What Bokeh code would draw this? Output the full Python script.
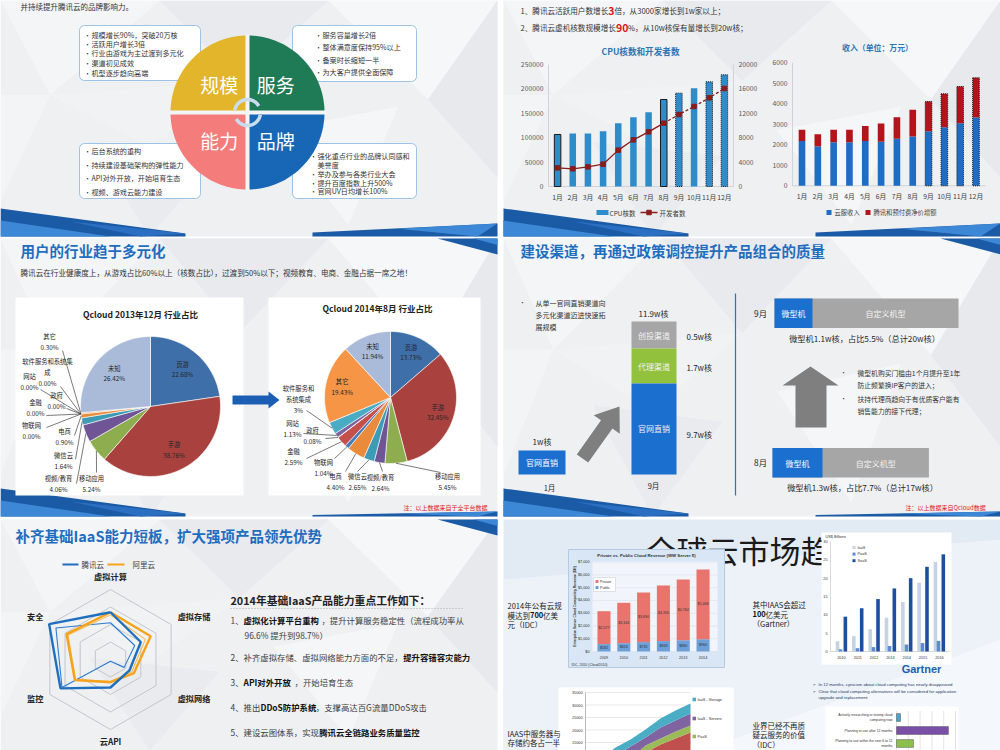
import numpy as np
from bokeh.plotting import figure
from bokeh.models import Range1d
from bokeh.embed import file_html
from bokeh.resources import INLINE
from bokeh.core.properties import value

FONT = "Noto Sans CJK SC"

# ======================= DATA =======================
intro_line = "并持续提升腾讯云的品牌影响力。"
quad_names = ["服务", "品牌", "能力", "规模"]          # clockwise from 12 o'clock
quad_colors = ["#1f7b56", "#1867b6", "#f47d7b", "#e2b52b"]
notes_scale = ["规模增长90%，突破20万核", "活跃用户增长3倍", "行业由游戏为主过渡到多元化", "渠道初见成效", "机型逐步趋向高端"]
notes_service = ["服务容量增长2倍", "整体满意度保持95%以上", "备案时长缩短一半", "为大客户提供全面保障"]
notes_ability = ["后台系统的重构", "持续建设基础架构的弹性能力", "API对外开放，开始培育生态", "视频、游戏云能力建设"]
notes_brand = ["强化重点行业的品牌认同感和\n美誉度", "举办及参与各类行业大会", "提升百度指数上升500%", "官网UV日均增长100%"]

months = ["1月", "2月", "3月", "4月", "5月", "6月", "7月", "8月", "9月", "10月", "11月", "12月"]
cpu_cores = [106600, 108600, 108600, 113400, 129800, 142000, 152300, 178300, 191300, 201500, 214500, 228800]
developers = [3060, 2900, 3220, 3660, 5960, 7650, 8960, 10380, 11800, 13120, 14540, 16070]
cpu_ticks = [0, 50000, 100000, 150000, 200000, 250000]
dev_ticks = [0, 4000, 8000, 12000, 16000, 20000]
rev_cloud = [2180, 1935, 2130, 2130, 2180, 2146, 2293, 2407, 2667, 2862, 3057, 3333]
rev_extra = [552, 585, 602, 602, 731, 895, 1057, 1300, 1447, 1626, 1789, 1935]
rev_ticks = [0, 1000, 2000, 3000, 4000, 5000, 6000]

pie_names = ["页游", "手游", "移动应用", "视频/教育", "微信云", "电商", "物联网", "金融", "政府", "网站", "软件服务和系统集成", "其它", "未知"]
pie_colors = ["#3f6fa9", "#a9423f", "#8dad4f", "#6f5596", "#3e9bb6", "#ea8a3b", "#4a7bbd", "#c4504c", "#98b956", "#7d63a0", "#4aabc5", "#f69545", "#a9bbd9"]
share_2013 = [22.68, 38.76, 5.24, 4.06, 1.64, 0.90, 0.00, 0.00, 0.00, 0.00, 0.00, 0.30, 26.42]
share_2014 = [13.73, 32.45, 5.45, 2.64, 2.65, 4.40, 1.04, 2.59, 0.08, 1.13, 3, 19.43, 11.94]

chan_names = ["创投渠道", "代理渠道", "官网直销"]
chan_cores = [0.5, 1.7, 9.7]
chan_colors = ["#a6a6a6", "#92c13e", "#1b6fcf"]
jan_cores = 1
mach_months = ["9月", "8月"]
mach_micro = [1.1, 1.3]
mach_share = [5.5, 7.7]
mach_total = [20, 17]
mach_notes = ["微型机购买门槛由1个月提升至1年\n防止频繁换IP客户的进入；", "扶持代理商趋向于有优质客户能有\n销售能力的接下代理；"]

radar_axes = ["虚拟计算", "虚拟存储", "虚拟网络", "云API", "监控", "安全"]
tencent = [2.7, 2.0, 1.25, 1.6, 3.3, 4.05]
tencent_prev = [2.1, 1.6, 0.9, 0.1, 3.2, 3.6]
aliyun = [2.7, 2.65, 1.55, 1.3, 2.35, 2.9]
aliyun_prev = [2.55, 2.3, 1.4, 1.25, 2.3, 2.8]

idc_years = ["2009", "2010", "2011", "2012", "2013", "2014"]
idc_public = [582, 653, 735, 818, 880, 960]
idc_private = [2577, 3164, 3890, 4356, 4764, 5468]
idc_ticks = [0, 1000, 2000, 3000, 4000, 5000, 6000, 7000]

gartner_years = ["2010", "2011", "2012", "2013", "2014", "2015", "2016"]
g_iaas = [2.8, 4.2, 6.1, 9.2, 13.5, 18.8, 24.4]
g_paas = [0.6, 0.9, 1.2, 1.5, 1.9, 2.3, 2.9]
g_saas = [9.5, 11.8, 14.3, 17.2, 20.0, 23.1, 26.5]
g_ticks = [0, 5, 10, 15, 20, 25, 30]

area_saas = [2500, 3500, 5000, 7000, 11000, 14000, 16500, 19000]
area_paas = [500, 800, 1100, 1600, 2500, 2500, 2800, 2800]
area_servers = [1000, 2000, 3500, 4500, 3500, 4300, 4500, 4800]
area_storage = [1000, 2200, 3200, 2900, 3000, 3500, 4000, 4000]
area_ticks = [15000, 20000, 25000, 30000, 35000]

survey_labels = [["Actively researching or testing cloud", "computing now"], ["Planning to use after 12 months"], ["Planning to use within the next 6 to 12", "months"]]
survey_values = [3.4, 44, 14.4]

# ======================= FIGURE =======================
W, H = 1000, 750
p = figure(width=W, height=H, x_range=Range1d(0, W), y_range=Range1d(H, 0),
           output_backend="svg", toolbar_location=None, x_axis_type=None, y_axis_type=None,
           min_border=0, outline_line_color=None,
           background_fill_color="white", border_fill_color="white")
p.grid.visible = False


def T(x, y, s, size=8.0, color="#333333", bold=False, align="left", baseline="middle", font=FONT, angle=0.0):
    p.text(x=[x], y=[y], text=[s], text_font=value(font), text_font_size=f"{size}px",
           text_color=color, text_font_style="bold" if bold else "normal",
           text_align=align, text_baseline=baseline, angle=angle)


def cw(ch, s):
    if ord(ch) >= 0x2E80:
        return s
    if ch == " ":
        return 0.26 * s
    if ch.isdigit():
        return 0.56 * s
    if ch in ".,:;'|":
        return 0.27 * s
    if ch == "%":
        return 0.84 * s
    if ch in "()":
        return 0.33 * s
    if ch.isupper():
        return 0.63 * s
    return 0.52 * s


def runs(x, y, parts, size, color="#333333", bold_color=None):
    for part in parts:
        s, c, b, sz = part
        T(x, y, s, sz, c, b)
        x += sum(cw(ch, sz) for ch in s) * (1.03 if b else 1.0)


def poly(pts, color, alpha=1.0):
    p.patch([a for a, b in pts], [b for a, b in pts], fill_color=color, fill_alpha=alpha, line_color=None)


def rrect(x0, y0, x1, y1, r, fill, line, lw=1.0):
    xs, ys = [], []
    for cx, cy, a0, a1 in [(x1 - r, y0 + r, -90, 0), (x1 - r, y1 - r, 0, 90), (x0 + r, y1 - r, 90, 180), (x0 + r, y0 + r, 180, 270)]:
        for a in np.radians(np.linspace(a0, a1, 7)):
            xs.append(cx + r * np.cos(a))
            ys.append(cy + r * np.sin(a))
    p.patch(xs, ys, fill_color=fill, line_color=line, line_width=lw)


# ---------------- slide backgrounds ----------------
slides = [(0, 0, 497, 236), (503, 0, 1000, 236), (0, 238, 497, 516), (503, 238, 1000, 516), (0, 519, 497, 750), (503, 519, 1000, 750)]
tri_rel = [
    [(0.00, 0.00), (0.32, 0.00), (0.10, 0.40)],
    [(0.32, 0.00), (0.66, 0.00), (0.48, 0.34)],
    [(0.66, 0.00), (1.00, 0.00), (0.86, 0.42)],
    [(0.86, 0.42), (1.00, 0.00), (1.00, 0.75)],
    [(0.00, 0.40), (0.10, 0.40), (0.00, 0.85)],
    [(0.55, 0.55), (0.80, 0.45), (0.70, 0.95)],
    [(0.18, 0.60), (0.44, 0.66), (0.30, 1.00)],
    [(0.10, 0.40), (0.48, 0.34), (0.30, 0.62)],
]
tri_cols = ["#f4f5f7", "#e8eaee", "#f6f7f8", "#e7e9ed", "#f3f4f6", "#f5f6f8", "#e9ebef", "#f1f2f4"]
for i, (x0, y0, x1, y1) in enumerate(slides):
    if i == 5:
        p.quad(left=x0, right=x1, top=y0, bottom=y1, fill_color="#e2ebf4", line_color=None)
        poly([(x0, y0 + 60), (x1, y0 + 20), (x1, y1), (x0, y1)], "#edf2f8")
        poly([(x0 + 200, y1), (x1, y0 + 120), (x1, y1)], "#f4f7fb")
        continue
    p.quad(left=x0, right=x1, top=y0, bottom=y1, fill_color="#eef0f2", line_color=None)
    xs = [[x0 + u * (x1 - x0) for u, v in t] for t in tri_rel]
    ys = [[y0 + v * (y1 - y0) for u, v in t] for t in tri_rel]
    p.patches(xs, ys, fill_color=tri_cols, line_color=None)


def deco_bottom(x0, x1, yb, rh=13):
    poly([(x0, yb - 28), (x0 + 185, yb - 3), (x0 + 185, yb), (x0, yb)], "#1b5aa5")
    poly([(x0, yb - 16), (x0 + 110, yb), (x0, yb)], "#3c88d6")
    poly([(x0 + 70, yb - 15), (x0 + 185, yb - 3), (x0 + 140, yb)], "#2a6fc1")
    poly([(x1 - 185, yb - rh * 0.3), (x1, yb - rh), (x1, yb), (x1 - 185, yb)], "#1b5aa5")
    poly([(x1 - 100, yb - rh * 0.6), (x1, yb - rh), (x1 - 20, yb)], "#3c88d6")


def deco_top(x1, yt, w=60, h=16):
    poly([(x1 - w, yt), (x1, yt), (x1, yt + h)], "#1b5aa5")
    poly([(x1 - w * 0.4, yt), (x1, yt), (x1, yt + h * 0.4)], "#3c88d6")


for k, (x0, y0, x1, y1) in enumerate(slides[:4]):
    deco_bottom(x0, x1, y1, 13 if k < 2 else 5)
for (x0, y0, x1, y1) in slides[2:5]:
    deco_top(x1, y0)

# =================== slide 1: quadrant ===================
T(20, 6, intro_line, 7.5, "#333333")
boxes = [(79, 25, 200, 80), (292, 25, 416, 81), (79, 143, 200, 198), (292, 143, 416, 198)]
for b in boxes:
    rrect(*b, r=5, fill="white", line="#9cc2e5")
note_layout = [(87, 91, [34.3, 43.3, 52.7, 62.3, 72]), (318, 322, [34.3, 46.7, 59.3, 71.7]),
               (87, 91, [150, 164, 177.7, 191]), (313, 317, [155.7, 173.3, 182, 190.3])]
for (bx, tx, ys), notes in zip(note_layout, [notes_scale, notes_service, notes_ability, notes_brand]):
    for yy, s in zip(ys, notes):
        T(bx, yy, "•", 6.5, "#333333", align="center")
        for k, ln in enumerate(s.split("\n")):
            T(tx, yy + 8.6 * k, ln, 7.1, "#333333")

qx, qy, qr = 247, 112, 77
for k in range(4):
    th = np.radians(np.linspace(90 * k, 90 * (k + 1), 40))
    p.patch([qx] + list(qx + qr * np.sin(th)), [qy] + list(qy - qr * np.cos(th)), fill_color=quad_colors[k], line_color=None)
    mid = np.radians(90 * k + 45)
    T(qx + 0.52 * qr * np.sin(mid), qy - 0.52 * qr * np.cos(mid), quad_names[k], 19, "white", align="center")
p.segment(x0=[qx - qr - 1, qx], y0=[qy, qy - qr - 1], x1=[qx + qr + 1, qx], y1=[qy, qy + qr + 1], line_color="#f4f5f7", line_width=4)
for a0, a1 in [(-80, 60), (100, 240)]:
    th = np.radians(np.linspace(a0, a1, 30))
    p.line(qx + 13 * np.sin(th), qy - 13 * np.cos(th), line_color="#c9ddef", line_width=3.5)

# =================== slide 2: CPU / revenue ===================
runs(520, 10, [("1、腾讯云活跃用户数增长", "#333333", False, 7.6), ("3", "#e0161b", True, 10.5),
               ("倍，从3000家增长到1w家以上；", "#333333", False, 7.6)], 7.6)
runs(520, 27, [("2、腾讯云虚机核数规模增长", "#333333", False, 7.6), ("90", "#e0161b", True, 10.5),
               ("%，从10w核保有量增长到20w核；", "#333333", False, 7.6)], 7.6)

T(640, 50.5, "CPU核数和开发者数", 8.6, "#2e75b6", True, "center")
xi = list(range(1, 13))
cpu = p.subplot(x_source=Range1d(0.4, 12.6), y_source=Range1d(0, 250000), x_target=Range1d(548, 733), y_target=Range1d(186, 64))
dev = p.subplot(x_source=Range1d(0.4, 12.6), y_source=Range1d(0, 20000), x_target=Range1d(548, 733), y_target=Range1d(186, 64))
cpu.segment(x0=[0.4, 12.6, 0.4], y0=[0, 0, 0], x1=[0.4, 12.6, 12.6], y1=[250000, 250000, 0], line_color="#d0d3d8", line_width=1)
cpu.vbar(x=xi, top=cpu_cores, width=0.43, fill_color="#2f8ccb", line_color=None)
sol = [0, 7]
dot = [8, 10, 11]
cpu.vbar(x=[xi[i] for i in sol], top=[cpu_cores[i] for i in sol], width=0.43, fill_color=None, line_color="#1a1a1a", line_width=1)
cpu.vbar(x=[xi[i] for i in dot], top=[cpu_cores[i] for i in dot], width=0.43, fill_color=None, line_color="#1a1a1a", line_width=1, line_dash="1 1")
dev.line(xi[:8], developers[:8], line_color="#8b1c1c", line_width=1.3)
dev.line(xi[7:], developers[7:], line_color="#8b1c1c", line_width=1.3, line_dash="3 2")
dev.scatter(xi, developers, marker="square", size=4.5, fill_color="#8b1c1c", line_color="#8b1c1c")
cpu.text(x=[0.4] * len(cpu_ticks), y=cpu_ticks, text=[str(t) for t in cpu_ticks], x_offset=-5,
         text_align="right", text_baseline="middle", text_font=value(FONT), text_font_size="6.8px", text_color="#595959")
dev.text(x=[12.6] * len(dev_ticks), y=dev_ticks, text=[str(t) for t in dev_ticks], x_offset=5,
         text_align="left", text_baseline="middle", text_font=value(FONT), text_font_size="6.8px", text_color="#595959")
cpu.text(x=xi, y=[0] * 12, text=months, y_offset=10, text_align="center", text_baseline="middle",
         text_font=value(FONT), text_font_size="6.8px", text_color="#404040")
p.quad(left=596, right=608, top=209.5, bottom=214.5, fill_color="#2f8ccb", line_color=None)
T(609, 212, "CPU核数", 6.5, "#404040")
p.segment(x0=[640], y0=[212], x1=[657], y1=[212], line_color="#8b1c1c", line_width=1.3)
p.scatter([648.5], [212], marker="square", size=4.5, fill_color="#8b1c1c", line_color="#8b1c1c")
T(659, 212, "开发者数", 6.5, "#404040")

T(877, 47, "收入（单位：万元）", 7.9, "#2e75b6", True, "center")
rev = p.subplot(x_source=Range1d(0.4, 12.6), y_source=Range1d(0, 6000), x_target=Range1d(792, 985), y_target=Range1d(185.3, 62.3))
rev_total = [a + b for a, b in zip(rev_cloud, rev_extra)]
rev.segment(x0=[0.4, 0.4], y0=[0, 0], x1=[0.4, 12.6], y1=[6000, 0], line_color="#d0d3d8", line_width=1)
rev.vbar(x=xi, bottom=0, top=rev_cloud, width=0.42, fill_color="#1f6cc4", line_color=None)
rev.vbar(x=xi, bottom=rev_cloud, top=rev_total, width=0.42, fill_color="#b3141c", line_color=None)
rev.vbar(x=xi[8:], bottom=0, top=rev_total[8:], width=0.42, fill_color=None, line_color="#1a1a1a", line_width=1, line_dash="1 1")
rev.text(x=[0.4] * len(rev_ticks), y=rev_ticks, text=[str(t) for t in rev_ticks], x_offset=-5,
         text_align="right", text_baseline="middle", text_font=value(FONT), text_font_size="6.8px", text_color="#595959")
rev.text(x=xi, y=[0] * 12, text=months, y_offset=10, text_align="center", text_baseline="middle",
         text_font=value(FONT), text_font_size="6.8px", text_color="#404040")
p.quad(left=826, right=831, top=209.5, bottom=214.5, fill_color="#1f6cc4", line_color=None)
T(834, 212, "云服收入", 6.3, "#404040")
p.quad(left=865, right=870, top=209.5, bottom=214.5, fill_color="#b3141c", line_color=None)
T(873, 212, "腾讯和预付费净价增额", 6.3, "#404040")

# =================== slide 3: pies ===================
T(20, 250, "用户的行业趋于多元化", 14.5, "#1f6dbf", True)
T(20, 272, "腾讯云在行业健康度上，从游戏占比60%以上（核数占比），过渡到50%以下；视频教育、电商、金融占据一席之地！", 7.6, "#333333")
p.quad(left=15, right=243, top=297, bottom=495, fill_color="white", line_color=None)
p.quad(left=268, right=480, top=297, bottom=495, fill_color="white", line_color=None)
T(140, 313, "Qcloud 2013年12月 行业占比", 8.5, "#222222", True, "center")
T(377, 307, "Qcloud 2014年8月 行业占比", 8.5, "#222222", True, "center")
poly([(232, 395), (268, 395), (268, 391), (279, 399.5), (268, 408), (268, 404), (232, 404)], "#1a5fb4")


def fmt_pct(v):
    return f"{v}%" if isinstance(v, int) else f"{v:.2f}%"


def draw_pie(cx, cy, r, vals, lab_r, ext, lead, wrap):
    v = np.asarray(vals, float)
    frac = v / v.sum()
    cum = np.concatenate([[0.0], np.cumsum(frac)])
    xs, ys, cs = [], [], []
    for i in range(len(v)):
        if v[i] <= 0:
            continue
        th = np.linspace(cum[i], cum[i + 1], max(3, int(frac[i] * 160) + 2)) * 2 * np.pi
        xs.append([cx] + list(cx + r * np.sin(th)))
        ys.append([cy] + list(cy - r * np.cos(th)))
        cs.append(pie_colors[i])
    p.patches(xs, ys, fill_color=cs, line_color="white", line_width=0.6)
    mids = (cum[:-1] + cum[1:]) * np.pi
    for i in range(len(v)):
        if i in ext:
            lx, ly = ext[i]
            lines = wrap.get(i, [pie_names[i]]) + [fmt_pct(vals[i])]
            for k, ln in enumerate(lines):
                T(lx, ly + 10.8 * k, ln, 6.3, "#262626", align="center")
            sx, sy = lead[i]
            p.line([sx, cx + r * np.sin(mids[i])], [sy, cy - r * np.cos(mids[i])], line_color="#404040", line_width=0.7)
        elif v[i] >= 10:
            tx = cx + lab_r * r * np.sin(mids[i])
            ty = cy - lab_r * r * np.cos(mids[i])
            T(tx, ty - 5, pie_names[i], 6.3, "#262626", align="center")
            T(tx, ty + 5.5, fmt_pct(vals[i]), 6.3, "#262626", align="center")


ext13 = {2: (91, 478), 3: (58, 478), 4: (63, 455), 5: (64, 431), 6: (31, 425), 7: (35, 402), 8: (56, 395), 9: (29, 376), 10: (47, 361), 11: (49, 336)}
lead13 = {2: (96, 472), 3: (76, 483), 4: (75, 459), 5: (74, 435), 6: (46, 427), 7: (46, 415), 8: (66, 408), 9: (40, 389), 10: (60, 386), 11: (62, 350)}
ext14 = {2: (447, 476), 3: (380, 477), 4: (357, 476), 5: (335, 476), 6: (323, 462), 7: (293, 451), 8: (312, 430), 9: (292, 423), 10: (298, 388)}
lead14 = {2: (440, 472), 3: (382, 471), 4: (357, 471), 5: (345, 471), 6: (334, 458), 7: (306, 458), 8: (325, 438), 9: (303, 433), 10: (306, 410)}
draw_pie(150, 406, 70, share_2013, 0.7, ext13, lead13, {10: ["软件服务和系统集", "成"]})
draw_pie(390, 397, 66, share_2014, 0.75, ext14, lead14, {10: ["软件服务和", "系统集成"]})
T(403, 506.5, "注：以上数据来自于全平台数据", 6, "#e02020")

# =================== slide 4: channels ===================
T(520, 250, "建设渠道，再通过政策调控提升产品组合的质量", 14.5, "#1f6dbf", True)
T(522, 302, "•", 6, "#333333", align="center")
for k, ln in enumerate(["从单一官网直销渠道向", "多元化渠道迈进快速拓", "展规模"]):
    T(535, 302 + 12 * k, ln, 7, "#333333")
chan_y = [(321, 348), (348, 383), (383, 474)]
chan_lab_y = [336, 367, 434]
for (y0, y1), nm, v, c, ly in zip(chan_y, chan_names, chan_cores, chan_colors, chan_lab_y):
    p.quad(left=631, right=676, top=y0, bottom=y1, fill_color=c, line_color=None)
    T(653.5, (y0 + y1) / 2 + (0 if nm != "官网直销" else -0.5), nm, 8, "#f2f2f2", align="center")
    T(686, ly, f"{v}w核", 8, "#262626")
T(653, 313, f"{sum(chan_cores):.1f}w核", 8, "#262626", align="center")
T(653, 485, "9月", 7.5, "#262626", align="center")
p.quad(left=518, right=565, top=450, bottom=474, fill_color="#1b6fcf", line_color=None)
T(541.5, 462, chan_names[2], 8, "white", align="center")
T(541.5, 441, f"{jan_cores}w核", 8, "#262626", align="center")
T(549, 487, "1月", 7.5, "#262626", align="center")
tail = np.array([582.0, 458.0])
tip = np.array([619.0, 406.0])
u = (tip - tail) / np.linalg.norm(tip - tail)
nrm = np.array([-u[1], u[0]])
neck = tip - u * 22
arrow = [tail + nrm * 7, neck + nrm * 7, neck + nrm * 16, tip, neck - nrm * 16, neck - nrm * 7, tail - nrm * 7]
poly([tuple(a) for a in arrow], "#7f7f7f")
p.segment(x0=[735], y0=[293], x1=[735], y1=[495], line_color="#2e75b6", line_width=1.2)

mach_y = [313, 462.5]
mach_x0 = [774, 772]
mach_blue_w = [38, 50]
px_per_w = 9.2
for mm, m, sh, t, yy, x0, bw in zip(mach_months, mach_micro, mach_share, mach_total, mach_y, mach_x0, mach_blue_w):
    p.quad(left=x0, right=x0 + t * px_per_w, top=yy - 15, bottom=yy + 14.5, fill_color="#a6a6a6", line_color=None)
    p.quad(left=x0, right=x0 + bw, top=yy - 15, bottom=yy + 14.5, fill_color="#1b6fcf", line_color=None)
    T(x0 + bw / 2, yy, "微型机", 8, "white", align="center")
    T((x0 + bw + x0 + t * px_per_w) / 2, yy, "自定义机型", 8, "#f2f2f2", align="center")
    T(760, yy - 1, mm, 8.3, "#262626", align="center")
    T(x0 + 90, yy + 24, f"微型机{m}w核，占比{sh}%（总计{t}w核）", 8.2, "#262626", align="center")
poly([(782, 385), (810, 366), (838, 385), (826, 385), (826, 427), (795, 427), (795, 385)], "#7f7f7f")
for k, note in enumerate(mach_notes):
    y0 = 372 + 26 * k
    T(843, y0, "•", 6, "#333333", align="center")
    for j, ln in enumerate(note.split("\n")):
        T(857, y0 + 12.7 * j, ln, 6.8, "#333333")
T(905, 506.5, "注：以上数据来自Qcloud数据", 6, "#e02020")

# =================== slide 5: radar ===================
T(15, 535, "补齐基础IaaS能力短板，扩大强项产品领先优势", 14.5, "#1f6dbf", True)
p.segment(x0=[62, 107], y0=[564, 564], x1=[78, 124], y1=[564, 564], line_color=["#1f6fbf", "#f5a31a"], line_width=2)
T(81, 564, "腾讯云", 7.5, "#404040")
T(132, 564, "阿里云", 7.5, "#404040")
rad = p.subplot(x_source=Range1d(-1, 1), y_source=Range1d(-1, 1), x_target=Range1d(110 - 17.5, 110 + 17.5), y_target=Range1d(659 + 17.5, 659 - 17.5))
ang = np.radians([90, 30, -30, -90, -150, 150])
for lvl in [1, 2, 3, 4]:
    rad.line(list(lvl * np.cos(ang)) + [lvl * np.cos(ang[0])], list(lvl * np.sin(ang)) + [lvl * np.sin(ang[0])],
             line_color="#c4c6ca", line_width=1)


def radar_poly(vals, color, lw):
    v = np.asarray(vals)
    xs = list(v * np.cos(ang)) + [v[0] * np.cos(ang[0])]
    ys = list(v * np.sin(ang)) + [v[0] * np.sin(ang[0])]
    rad.line(xs, ys, line_color=color, line_width=lw)


radar_poly(tencent_prev, "#2a7bd0", 1.1)
radar_poly(aliyun_prev, "#f7b955", 1.1)
radar_poly(aliyun, "#f5a31a", 2.4)
radar_poly(tencent, "#1f6fbf", 2.4)
lab_r = 4.3
aligns = ["center", "left", "left", "center", "right", "right"]
yoffs = [-8, -6, 1, 6, 1, -6]
for nm, a, al, yo in zip(radar_axes, ang, aligns, yoffs):
    rad.text(x=[lab_r * np.cos(a)], y=[lab_r * np.sin(a)], text=[nm], y_offset=yo, x_offset=(2 if al == "left" else -2 if al == "right" else 0),
             text_align=al, text_baseline="middle", text_font=value(FONT), text_font_size="8.2px",
             text_font_style="bold", text_color="#222222")

T(230, 599, "2014年基础IaaS产品能力重点工作如下：", 10.8, "#222222", True)
p.segment(x0=[230], y0=[608], x1=[462], y1=[608], line_color="#9a9a9a", line_width=0.8, line_dash="1 2")
N, B = "#404040", "#111111"
items = [
    [("1、", N, False, 8.4), ("虚拟化计算平台重构", B, True, 8.4), ("，提升计算服务稳定性（流程成功率从", N, False, 8.4)],
    [("2、补齐虚拟存储、虚拟网络能力方面的不足，", N, False, 8.4), ("提升容错容灾能力", B, True, 8.4)],
    [("3、", N, False, 8.4), ("API对外开放", B, True, 8.4), ("，开始培育生态", N, False, 8.4)],
    [("4、推出", N, False, 8.4), ("DDoS防护系统", B, True, 8.4), ("，支撑高达百G流量DDoS攻击", N, False, 8.4)],
    [("5、建设云图体系，实现", N, False, 8.4), ("腾讯云全链路业务质量监控", B, True, 8.4)],
]
for yy, parts in zip([619, 656, 681.5, 706, 731], items):
    runs(230, yy, parts, 8.4)
T(244, 634, "96.6% 提升到98.7%）", 8.4, N)

# =================== slide 6: market ===================
T(645, 549, "全球云市场趋势", 31, "#1a1a1a")
# IDC chart
p.quad(left=568, right=724, top=549, bottom=667, fill_color="#d8e6f5", line_color="#b4cbe3")
p.quad(left=592, right=717, top=561, bottom=651, fill_color="#f1f5fb", line_color=None)
T(646, 555, "Private vs. Public Cloud Revenue (WW Server $)", 4.3, "#333333", True, "center", font="Liberation Sans")
idc = p.subplot(x_source=Range1d(-0.58, 5.73), y_source=Range1d(0, 7000), x_target=Range1d(592, 717), y_target=Range1d(651, 561.7))
ix = list(range(6))
idc_total = [a + b for a, b in zip(idc_public, idc_private)]
idc.segment(x0=[-0.58] * 8, y0=idc_ticks, x1=[5.73] * 8, y1=idc_ticks, line_color="#d5dde8", line_width=0.5)
idc.vbar(x=ix, bottom=0, top=idc_public, width=0.66, fill_color="#6d9fd9", line_color=None)
idc.vbar(x=ix, bottom=idc_public, top=idc_total, width=0.66, fill_color="#e9746d", line_color=None)
idc.text(x=ix, y=[b + t / 2 for b, t in zip(idc_public, idc_private)], text=[f"${v:,}" for v in idc_private],
         text_align="center", text_baseline="middle", text_font=value("Liberation Sans"), text_font_size="3.6px", text_color="#333333")
idc.text(x=ix, y=[v / 2 for v in idc_public], text=[f"${v}" for v in idc_public],
         text_align="center", text_baseline="middle", text_font=value("Liberation Sans"), text_font_size="3.6px", text_color="#333333")
idc.text(x=[-0.58] * 8, y=idc_ticks, text=[f"${v:,}" for v in idc_ticks], x_offset=-3, text_align="right", text_baseline="middle",
         text_font=value("Liberation Sans"), text_font_size="3.8px", text_color="#333333")
idc.text(x=ix, y=[0] * 6, text=idc_years, y_offset=6, text_align="center", text_baseline="middle",
         text_font=value("Liberation Sans"), text_font_size="3.8px", text_color="#333333")
T(574, 606, "Enterprise Server Cloud Computing Revenue ($M)", 3.4, "#333333", True, "center", font="Liberation Sans", angle=np.pi / 2)
p.quad(left=593, right=615, top=577, bottom=591, fill_color="white", line_color="#c0c8d4", line_width=0.5)
p.quad(left=595, right=598, top=579.5, bottom=582.5, fill_color="#e9746d", line_color=None)
p.quad(left=595, right=598, top=585.5, bottom=588.5, fill_color="#6d9fd9", line_color=None)
T(599.5, 581, "Private", 3.6, "#333333", font="Liberation Sans")
T(599.5, 587, "Public", 3.6, "#333333", font="Liberation Sans")
T(571, 664, "IDC, 2010 (Cloud2010)", 3.5, "#333333", font="Liberation Sans")

T(507, 605, "2014年公有云规", 7.5, "#222222")
runs(507, 614.5, [("模达到", "#222222", False, 7.5), ("700", "#111111", True, 7.5), ("亿美", "#222222", False, 7.5)], 7.5)
T(507, 624, "元（IDC）", 7.5, "#222222")
T(752, 604, "其中IAAS会超过", 7.5, "#222222")
runs(752, 613.5, [("100", "#111111", True, 7.5), ("亿美元", "#222222", False, 7.5)], 7.5)
T(752, 623, "（Gartner）", 7.5, "#222222")

# Gartner chart
p.quad(left=821, right=951, top=532, bottom=664, fill_color="white", line_color=None)
T(825, 536.5, "US$ Billions", 3.8, "#333333", font="Liberation Sans")
gx = np.arange(7)
gart = p.subplot(x_source=Range1d(-0.67, 6.68), y_source=Range1d(0, 30), x_target=Range1d(830, 950), y_target=Range1d(651, 541))
gart.segment(x0=[-0.67, -0.67], y0=[0, 0], x1=[-0.67, 6.68], y1=[30, 0], line_color="#bfbfbf", line_width=0.6)
gart.vbar(x=gx - 0.24, top=g_iaas, width=0.22, fill_color="#c6d3e3", line_color=None)
gart.vbar(x=gx, top=g_paas, width=0.22, fill_color="#5b8bd0", line_color=None)
gart.vbar(x=gx + 0.24, top=g_saas, width=0.22, fill_color="#1d4f9e", line_color=None)
gart.text(x=[-0.67] * 7, y=g_ticks, text=[str(t) for t in g_ticks], x_offset=-3, text_align="right", text_baseline="middle",
          text_font=value("Liberation Sans"), text_font_size="3.8px", text_color="#333333")
gart.text(x=list(gx), y=[0] * 7, text=gartner_years, y_offset=5.5, text_align="center", text_baseline="middle",
          text_font=value("Liberation Sans"), text_font_size="3.8px", text_color="#333333")
for k, (nm, c) in enumerate(zip(["IaaS", "PaaS", "SaaS"], ["#c6d3e3", "#5b8bd0", "#1d4f9e"])):
    p.quad(left=852, right=855, top=545.5 + 6.6 * k, bottom=548.5 + 6.6 * k, fill_color=c, line_color=None)
    T(857, 547 + 6.6 * k, nm, 3.8, "#333333", font="Liberation Sans")
T(921, 668, "Gartner", 11, "#1f5fae", True, "center", font="Liberation Sans")

# bullets
for k, ln in enumerate(["In 12 months, cynicism about cloud computing has nearly disappeared",
                        "Clear that cloud computing alternatives will be considered for application"]):
    T(812, 683.5 + 7.5 * k, "➢", 4.3, "#1f3864", font="DejaVu Sans")
    T(818, 683.5 + 7.5 * k, ln, 4.3, "#1f3864", font="Liberation Sans")
T(818, 697, "upgrade and replacement", 4.3, "#1f3864", font="Liberation Sans")

# survey bars
p.quad(left=825, right=958, top=706, bottom=752, fill_color="white", line_color=None)
surv = p.subplot(x_source=Range1d(0, 50), y_source=Range1d(0, 2), x_target=Range1d(896, 955), y_target=Range1d(717, 743))
surv.segment(x0=[0, 10, 20, 30, 40, 50], y0=[-0.5] * 6, x1=[0, 10, 20, 30, 40, 50], y1=[2.6] * 6, line_color="#c8c8c8", line_width=0.5)
surv.hbar(y=[0, 1, 2], right=survey_values, height=0.6, fill_color=["#3fa9c9", "#7a4fa6", "#8cbf4b"], line_color="#555555", line_width=0.5)
for k, lines in enumerate(survey_labels):
    for j, ln in enumerate(lines):
        surv.text(x=[0], y=[k], text=[ln], x_offset=-4, y_offset=(j - (len(lines) - 1) / 2) * 4.5,
                  text_align="right", text_baseline="middle", text_font=value("Liberation Sans"), text_font_size="3.4px", text_color="#333333")
T(752, 724.5, "业界已经不再质", 7.5, "#222222")
T(752, 734, "疑云服务的价值", 7.5, "#222222")
T(752, 743.5, "（IDC）", 7.5, "#222222")

# area chart
p.quad(left=558, right=733, top=687, bottom=752, fill_color="white", line_color=None)
area = p.subplot(x_source=Range1d(0, 7), y_source=Range1d(0, 35000), x_target=Range1d(585, 690), y_target=Range1d(779.5, 692))
ax = list(range(8))
c1 = np.cumsum([area_saas, area_paas, area_servers, area_storage], axis=0)
area.segment(x0=[0] * 5, y0=area_ticks, x1=[7] * 5, y1=area_ticks, line_color="#d9d9d9", line_width=0.6)
area.varea(x=ax, y1=[0] * 8, y2=c1[0], fill_color="#c0504d")
area.varea(x=ax, y1=c1[0], y2=c1[1], fill_color="#9bbb59")
area.varea(x=ax, y1=c1[1], y2=c1[2], fill_color="#8064a2")
area.varea(x=ax, y1=c1[2], y2=c1[3], fill_color="#4bacc6")
area.segment(x0=[0], y0=[0], x1=[0], y1=[35000], line_color="#8c8c8c", line_width=0.6)
area.text(x=[0] * 5, y=area_ticks, text=[str(t) for t in area_ticks], x_offset=-3, text_align="right", text_baseline="middle",
          text_font=value("Liberation Sans"), text_font_size="3.8px", text_color="#333333")
for k, (nm, c, yy) in enumerate(zip(["IaaS - Storage", "IaaS - Servers", "PaaS"], ["#4bacc6", "#8064a2", "#9bbb59"], [699, 718, 736])):
    p.quad(left=692, right=695.5, top=yy - 1.8, bottom=yy + 1.8, fill_color=c, line_color=None)
    T(697, yy, nm, 3.8, "#333333", font="Liberation Sans")
T(507, 733, "IAAS中服务器与", 7.5, "#222222")
T(507, 742, "存储约各占一半", 7.5, "#222222")

open("out.html", "w").write(file_html(p, INLINE))
